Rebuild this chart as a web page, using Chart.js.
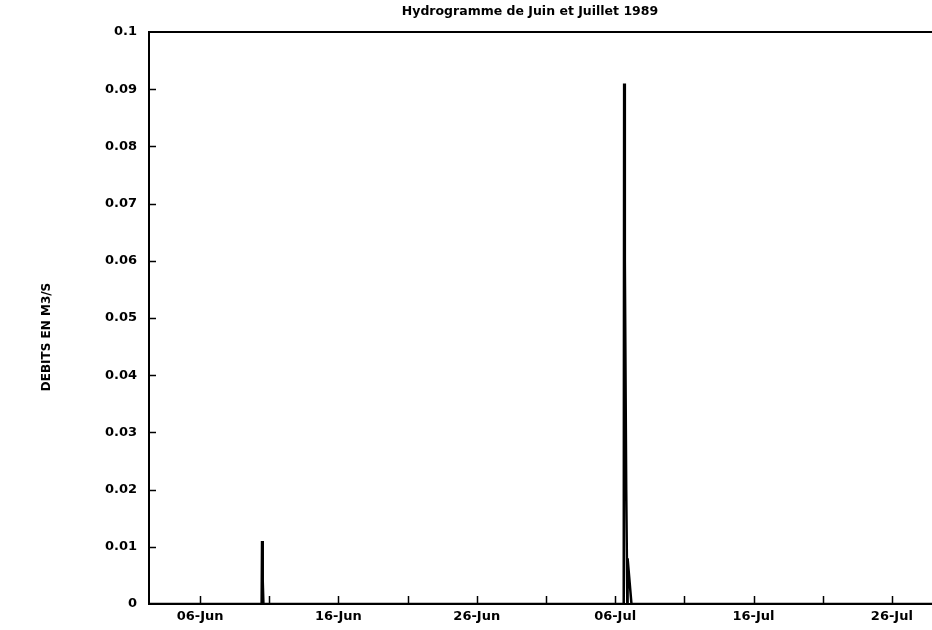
<!DOCTYPE html>
<html lang="fr">
<head>
  <meta charset="UTF-8">
  <title>Hydrogramme de Juin et Juillet 1989</title>
  <script src="https://cdn.jsdelivr.net/npm/chart.js"></script>
  <style>
    body { margin: 0; background: #fff; }
    #wrap { width: 932px; height: 630px; }
  </style>
</head>
<body>
  <div id="wrap"><canvas id="hydro"></canvas></div>

  <script>
    // days counted from 1 June 1989 (1 = 01-Jun, 31 = 01-Jul)
    const days = [2.31, 10.45, 10.48, 10.53, 10.58, 36.62, 36.65, 36.70, 36.80, 36.88, 36.90, 37.18, 58.9];
    const debits = [0, 0, 0.011, 0.004, 0, 0, 0.091, 0.06, 0.02, 0, 0.008, 0, 0];

    const tickDays = [6, 11, 16, 21, 26, 31, 36, 41, 46, 51, 56];
    const tickLabels = ['06-Jun', '', '16-Jun', '', '26-Jun', '', '06-Jul', '', '16-Jul', '', '26-Jul'];

    const yTicks = [0, 0.01, 0.02, 0.03, 0.04, 0.05, 0.06, 0.07, 0.08, 0.09, 0.1];
    const yTickLabels = ['0', '0.01', '0.02', '0.03', '0.04', '0.05', '0.06', '0.07', '0.08', '0.09', '0.1'];

    const title = 'Hydrogramme de Juin et Juillet 1989';
    const yTitle = 'DEBITS EN M3/S';
    const font = "'DejaVu Sans', 'Liberation Sans', sans-serif";

    // titles, inward tick marks and the top frame line
    const frame = {
      id: 'frame',
      afterDraw(chart) {
        const c = chart.ctx, a = chart.chartArea;
        const xs = chart.scales.x, ys = chart.scales.y;
        c.save();
        c.strokeStyle = '#000';
        c.lineWidth = 2;
        c.beginPath();
        c.moveTo(a.left - 1, a.top);
        c.lineTo(a.right, a.top);
        c.stroke();
        c.lineWidth = 1.5;
        tickDays.forEach(d => {
          const px = Math.round(xs.getPixelForValue(d)) + 0.5;
          c.beginPath();
          c.moveTo(px, a.bottom);
          c.lineTo(px, a.bottom - 8);
          c.stroke();
        });
        yTicks.slice(1, -1).forEach(v => {
          const py = Math.round(ys.getPixelForValue(v)) + 0.5;
          c.beginPath();
          c.moveTo(a.left, py);
          c.lineTo(a.left + 7, py);
          c.stroke();
        });
        c.fillStyle = '#000';
        c.textAlign = 'center';
        c.textBaseline = 'middle';
        c.font = 'bold 12.5px ' + font;
        c.fillText(title, 530, 12);
        c.translate(47, 337);
        c.rotate(-Math.PI / 2);
        c.font = 'bold 12px ' + font;
        c.fillText(yTitle, 0, 0);
        c.restore();
      }
    };

    const ctx = document.getElementById('hydro').getContext('2d');
    new Chart(ctx, {
      type: 'line',
      data: {
        datasets: [{
          data: days.map((d, i) => ({ x: d, y: debits[i] })),
          borderColor: '#000',
          borderWidth: 2.5,
          pointRadius: 0,
          tension: 0,
          fill: false
        }]
      },
      options: {
        responsive: true,
        maintainAspectRatio: false,
        animation: false,
        layout: { padding: { top: 32, left: 0, right: 0, bottom: 0 } },
        plugins: {
          legend: { display: false },
          tooltip: { enabled: false },
          title: { display: false }
        },
        scales: {
          x: {
            type: 'linear',
            min: 2.31,
            max: 58.9,
            afterFit(s) { s.height = 26; },
            afterBuildTicks(s) { s.ticks = tickDays.map(v => ({ value: v })); },
            grid: { display: false, drawTicks: false },
            border: { display: true, color: '#000', width: 2 },
            ticks: {
              color: '#000',
              padding: 5,
              maxRotation: 0,
              autoSkip: false,
              font: { family: font, size: 13, weight: 'bold' },
              callback: (v) => tickLabels[tickDays.indexOf(v)] ?? ''
            }
          },
          y: {
            min: 0,
            max: 0.1,
            afterFit(s) { s.width = 149; },
            afterBuildTicks(s) { s.ticks = yTicks.map(v => ({ value: v })); },
            grid: { display: false, drawTicks: false },
            border: { display: true, color: '#000', width: 2 },
            ticks: {
              color: '#000',
              padding: 12,
              font: { family: font, size: 13, weight: 'bold' },
              callback: (v) => yTickLabels[yTicks.indexOf(v)] ?? ''
            }
          }
        }
      },
      plugins: [frame]
    });
  </script>
</body>
</html>
